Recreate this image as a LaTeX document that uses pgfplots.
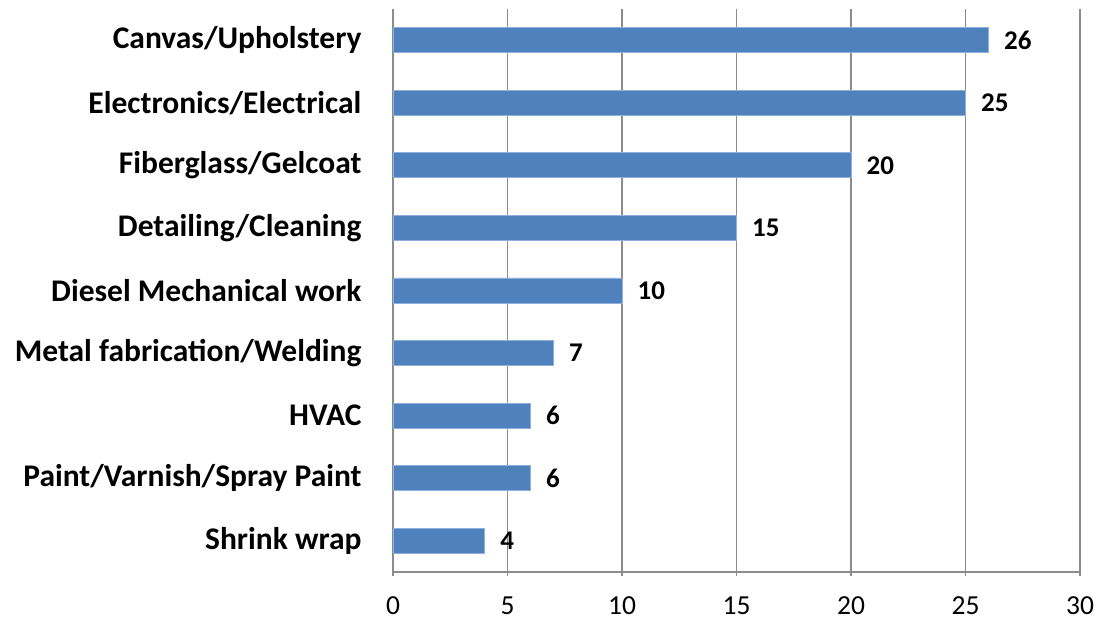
\documentclass[border=0pt]{standalone}
\usepackage{pgfplots}
\pgfplotsset{compat=1.18}
\usepackage{fontspec}
\setmainfont{Carlito}
\definecolor{barblue}{HTML}{4F81BD}
\definecolor{baredge}{HTML}{8EB0DA}
\definecolor{gridgray}{HTML}{8C8C8C}
\begin{document}
\begin{tikzpicture}
\useasboundingbox (-393pt,-48pt) rectangle (705pt,572pt);
\begin{axis}[
  scale only axis,
  width=687pt, height=563pt,
  anchor=south west, at={(0pt,0pt)},
  xbar, bar width=0.4,
  xmin=0, xmax=30, ymin=-0.5, ymax=8.5,
  xtick={0,5,...,30},
  ytick={0,...,8},
  yticklabels={Shrink wrap,Paint/Varnish/Spray Paint,HVAC,Metal fabrication/Welding,Diesel Mechanical work,Detailing/Cleaning,Fiberglass/Gelcoat,Electronics/Electrical,Canvas/Upholstery},
  extra y ticks={-0.5,0.5,...,8.5},
  extra y tick labels={},
  extra y tick style={major tick length=8pt, tick style={gridgray, line width=1.5pt}},
  y tick style={draw=none},
  tick align=outside,
  x tick style={gridgray, line width=1.5pt},
  major tick length=8pt,
  xmajorgrids,
  grid style={gridgray, line width=1.5pt},
  axis lines=left,
  axis line style={-, gridgray, line width=1.5pt},
  /pgf/number format/assume math mode=true,
  ticklabel style={font=\fontsize{27.5}{32}\selectfont, text=black},
  yticklabel style={font=\fontsize{31.5}{36}\selectfont\bfseries, xshift=-24pt},
  xticklabel style={yshift=-17pt},
  nodes near coords,
  nodes near coords style={font=\fontsize{27}{32}\selectfont\bfseries, anchor=west, xshift=12pt},
  clip=false,
]
\addplot[fill=barblue, draw=baredge, line width=0.8pt] coordinates {
(4,0) (6,1) (6,2) (7,3) (10,4) (15,5) (20,6) (25,7) (26,8)
};
\end{axis}
\end{tikzpicture}
\end{document}
